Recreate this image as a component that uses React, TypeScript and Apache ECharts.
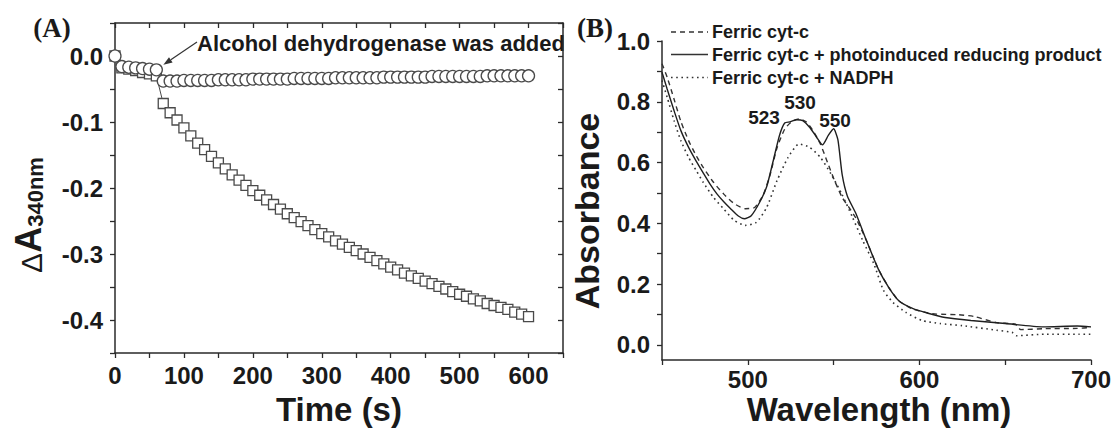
import React, { useEffect, useRef } from "react";
import * as echarts from "echarts";

// ---------- Panel A data ----------
const timeA = [
  0, 10, 20, 30, 40, 50, 60,
  70, 80, 90, 100, 110, 120, 130, 140, 150, 160,
  170, 180, 190, 200, 210, 220, 230, 240, 250, 260,
  270, 280, 290, 300, 310, 320, 330, 340, 350, 360,
  370, 380, 390, 400, 410, 420, 430, 440, 450, 460,
  470, 480, 490, 500, 510, 520, 530, 540, 550, 560,
  570, 580, 590, 600,
];
const circlesA = [
  0, -0.016, -0.017, -0.018, -0.019, -0.02, -0.021,
  -0.038, -0.038, -0.038, -0.037, -0.037, -0.037, -0.037, -0.037, -0.036, -0.036,
  -0.036, -0.036, -0.036, -0.035, -0.035, -0.035, -0.035, -0.035, -0.035, -0.034,
  -0.034, -0.034, -0.034, -0.034, -0.034, -0.033, -0.033, -0.033, -0.033, -0.033,
  -0.033, -0.033, -0.032, -0.032, -0.032, -0.032, -0.032, -0.032, -0.032, -0.031,
  -0.031, -0.031, -0.031, -0.031, -0.031, -0.031, -0.031, -0.03, -0.03, -0.03,
  -0.03, -0.03, -0.03, -0.03,
];
const squaresA = [
  0, -0.018, -0.02, -0.022, -0.025, -0.027, -0.03,
  -0.072, -0.086, -0.097, -0.109, -0.121, -0.132, -0.142, -0.152, -0.162, -0.171,
  -0.18, -0.188, -0.196, -0.204, -0.211, -0.218, -0.225, -0.232, -0.239, -0.245,
  -0.251, -0.257, -0.263, -0.269, -0.274, -0.28, -0.285, -0.29, -0.295, -0.3,
  -0.305, -0.31, -0.315, -0.32, -0.324, -0.329, -0.333, -0.337, -0.341, -0.345,
  -0.349, -0.353, -0.357, -0.361, -0.364, -0.368, -0.371, -0.375, -0.378, -0.381,
  -0.384, -0.388, -0.391, -0.395,
];
const yTicksA = [-0.45, -0.4, -0.35, -0.3, -0.25, -0.2, -0.15, -0.1, -0.05, 0, 0.05];
const yLabelsA = [-0.4, -0.3, -0.2, -0.1, 0];
const xLabelsA = [0, 100, 200, 300, 400, 500, 600];

// ---------- Panel B data ----------
const ferricWl = [
  450, 453, 457, 461, 465.5, 470, 474, 480, 486, 492, 498.5, 504, 509, 513, 517,
  521.5, 525.5, 530, 534, 538, 542.3, 546.4, 550.6, 555, 559, 563, 569, 576, 582,
  588, 596, 605, 610, 623, 632, 645, 656, 659, 672, 692, 700,
];
const ferricAbs = [
  0.925, 0.881, 0.809, 0.735, 0.672, 0.622, 0.584, 0.535, 0.496, 0.465, 0.448, 0.452,
  0.494, 0.56, 0.648, 0.71, 0.734, 0.744, 0.734, 0.705, 0.661, 0.601, 0.54, 0.485,
  0.452, 0.417, 0.345, 0.25, 0.19, 0.145, 0.118, 0.105, 0.101, 0.099, 0.093, 0.073,
  0.068, 0.05, 0.053, 0.054, 0.057,
];
const photoWl = [
  450, 453, 457, 461, 465.5, 470, 474, 478, 482, 486, 490, 494.5, 498, 502, 507, 511,
  515, 518.5, 521.5, 524.5, 528.5, 532, 536, 540, 543.5, 547, 550, 552.5, 555, 558,
  563, 569, 576, 582, 588, 596, 605, 615, 630, 650, 672, 692, 700,
];
const photoAbs = [
  0.897, 0.842, 0.771, 0.705, 0.65, 0.604, 0.566, 0.529, 0.497, 0.471, 0.448, 0.424,
  0.415, 0.425, 0.47, 0.52, 0.61, 0.69, 0.73, 0.734, 0.741, 0.738, 0.716, 0.684,
  0.658, 0.69, 0.711, 0.675, 0.56, 0.49, 0.432, 0.345, 0.25, 0.19, 0.145, 0.12,
  0.104, 0.09, 0.08, 0.07, 0.059, 0.062, 0.059,
];
const nadphWl = [
  450, 453, 457, 461, 465.5, 470, 474, 480, 486, 492, 498.5, 505, 511, 517, 523.5,
  529.8, 536, 542.3, 548.5, 554.8, 561, 567, 573.5, 579, 584.5, 592, 601.5, 612, 625,
  645, 654, 656.5, 673, 693, 700,
];
const nadphAbs = [
  0.87, 0.815, 0.738, 0.672, 0.617, 0.573, 0.535, 0.485, 0.447, 0.41, 0.393, 0.403,
  0.452, 0.54, 0.617, 0.661, 0.65, 0.617, 0.562, 0.496, 0.42, 0.343, 0.266, 0.18,
  0.14, 0.107, 0.08, 0.07, 0.063, 0.048, 0.041, 0.03, 0.035, 0.035, 0.035,
];
const yTicksB = [0, 0.1, 0.2, 0.3, 0.4, 0.5, 0.6, 0.7, 0.8, 0.9, 1.0];
const yLabelsB = [0, 0.2, 0.4, 0.6, 0.8, 1.0];
const xLabelsB = [500, 600, 700];

const seriesNamesB = [
  "Ferric cyt-c",
  "Ferric cyt-c + photoinduced reducing product",
  "Ferric cyt-c + NADPH",
];
const peakLabels = ["523", "530", "550"];

const FONT = "'Liberation Sans', Arial, sans-serif";
const SERIF = "'Liberation Serif', 'Times New Roman', serif";
const INK = "#1a1a1a";
const LINE = "#2a2a2a";

const DASH: number[] = [5, 4];
const DOT: number[] = [1.6, 3.6];

const zip = (xs: number[], ys: number[]) => xs.map((x, i) => [x, ys[i]]);

export default function App() {
  const ref = useRef<HTMLDivElement>(null);

  useEffect(() => {
    if (!ref.current) return;
    const chart = echarts.init(ref.current, undefined, { renderer: "svg" });

    const axisLine = { show: true, onZero: false, lineStyle: { color: LINE, width: 1.5 } };
    const tickStyle = { color: LINE, width: 1.3 };
    const labelStyle = { color: INK, fontSize: 24, fontWeight: "bold" as const, fontFamily: FONT, lineHeight: 24 };

    const option: any = {
      animation: false,
      backgroundColor: "#ffffff",
      grid: [
        { left: 115, top: 23, width: 448, height: 330 },
        { left: 662, top: 41, width: 429, height: 319 },
      ],
      xAxis: [
        {
          type: "value", gridIndex: 0, position: "bottom", min: 0, max: 650, interval: 50,
          axisLine, splitLine: { show: false },
          axisTick: { show: true, inside: false, length: 5, lineStyle: tickStyle },
          axisLabel: {
            ...labelStyle, margin: 10,
            formatter: (v: number) => (xLabelsA.includes(Math.round(v)) ? String(Math.round(v)) : ""),
          },
        },
        {
          type: "value", gridIndex: 0, position: "top", min: 0, max: 650, interval: 50,
          axisLine, splitLine: { show: false },
          axisTick: { show: true, inside: true, length: 5, lineStyle: tickStyle },
          axisLabel: { show: false },
        },
        {
          type: "value", gridIndex: 1, position: "bottom", min: 450, max: 700, interval: 50,
          axisLine, splitLine: { show: false },
          axisTick: { show: true, inside: false, length: 5, lineStyle: tickStyle },
          axisLabel: {
            ...labelStyle, margin: 7,
            formatter: (v: number) => (xLabelsB.includes(Math.round(v)) ? String(Math.round(v)) : ""),
          },
        },
      ],
      yAxis: [
        {
          type: "value", gridIndex: 0, position: "left", min: -0.45, max: 0.05, interval: 0.05,
          axisLine, splitLine: { show: false },
          axisTick: { show: true, inside: false, length: 5, lineStyle: tickStyle, customValues: yTicksA },
          axisLabel: {
            ...labelStyle, margin: 12, customValues: yLabelsA,
            formatter: (v: number) => {
              const r = Math.round(v * 100) / 100;
              return yLabelsA.some((t) => Math.abs(t - r) < 1e-6) ? r.toFixed(1) : "";
            },
          },
        },
        {
          type: "value", gridIndex: 0, position: "right", min: -0.45, max: 0.05, interval: 0.05,
          axisLine, splitLine: { show: false },
          axisTick: { show: true, inside: true, length: 5, lineStyle: tickStyle, customValues: yTicksA },
          axisLabel: { show: false },
        },
        {
          type: "value", gridIndex: 1, position: "left", min: -0.05, max: 1.0,
          axisLine, splitLine: { show: false },
          axisTick: { show: true, inside: false, length: 5, lineStyle: tickStyle, customValues: yTicksB },
          axisLabel: {
            ...labelStyle, margin: 12, customValues: yLabelsB,
            formatter: (v: number) => {
              const r = Math.round(v * 100) / 100;
              return yLabelsB.some((t) => Math.abs(t - r) < 1e-6) ? r.toFixed(1) : "";
            },
          },
        },
      ],
      series: [
        {
          type: "line", name: "squares", xAxisIndex: 0, yAxisIndex: 0, z: 2,
          data: zip(timeA, squaresA),
          symbol: "rect", symbolSize: 10,
          itemStyle: { color: "#ffffff", borderColor: "#4a4a4a", borderWidth: 1.3 },
          lineStyle: { color: "#4a4a4a", width: 1 },
        },
        {
          type: "line", name: "circles", xAxisIndex: 0, yAxisIndex: 0, z: 3,
          data: zip(timeA, circlesA),
          symbol: "circle", symbolSize: 12,
          itemStyle: { color: "#ffffff", borderColor: "#4a4a4a", borderWidth: 1.3 },
          lineStyle: { color: "#4a4a4a", width: 1 },
        },
        {
          type: "line", name: seriesNamesB[0], xAxisIndex: 2, yAxisIndex: 2,
          data: zip(ferricWl, ferricAbs), symbol: "none", smooth: 0.2,
          itemStyle: { color: LINE },
          lineStyle: { color: "#333", width: 1.4, type: DASH },
        },
        {
          type: "line", name: seriesNamesB[1], xAxisIndex: 2, yAxisIndex: 2,
          data: zip(photoWl, photoAbs), symbol: "none", smooth: 0.2,
          itemStyle: { color: LINE },
          lineStyle: { color: "#1f1f1f", width: 1.4, type: "solid" },
        },
        {
          type: "line", name: seriesNamesB[2], xAxisIndex: 2, yAxisIndex: 2,
          data: zip(nadphWl, nadphAbs), symbol: "none", smooth: 0.2,
          itemStyle: { color: LINE },
          lineStyle: { color: "#333", width: 1.6, type: DOT },
        },
      ],
    };
    chart.setOption(option);

    // annotation arrow derived from the data point it points to
    const target = chart.convertToPixel({ xAxisIndex: 0, yAxisIndex: 0 }, [timeA[6], circlesA[6]]) as number[];
    const tip = [target[0] + 7, target[1] - 5];
    const start = [197, 42];
    const dx = tip[0] - start[0];
    const dy = tip[1] - start[1];
    const len = Math.hypot(dx, dy);
    const ux = dx / len, uy = dy / len;
    const back = [tip[0] - ux * 9, tip[1] - uy * 9];
    const head = [
      tip,
      [back[0] - uy * 3.2, back[1] + ux * 3.2],
      [back[0] + uy * 3.2, back[1] - ux * 3.2],
    ];

    const bold = (size: number) => ({ fontSize: size, fontWeight: "bold", fontFamily: FONT, fill: INK });

    // legend for panel B (line samples + names)
    const legendRows = [32, 54.5, 77.5];
    const legendStyles = [
      { lineDash: DASH, lineWidth: 1.4 },
      { lineDash: null as any, lineWidth: 1.4 },
      { lineDash: DOT, lineWidth: 1.6 },
    ];
    const legendEls: any[] = [];
    seriesNamesB.forEach((name, i) => {
      legendEls.push({
        type: "line",
        shape: { x1: 671, y1: legendRows[i], x2: 708, y2: legendRows[i] },
        style: { stroke: "#333", lineWidth: legendStyles[i].lineWidth, lineDash: legendStyles[i].lineDash },
      });
      legendEls.push({
        type: "text", x: 712, y: legendRows[i],
        style: { text: name, ...bold(18), align: "left", verticalAlign: "middle" },
      });
    });

    chart.setOption({
      graphic: [
        { type: "text", x: 52, y: 28, style: { text: "(A)", fontSize: 27, fontWeight: "bold", fontFamily: SERIF, fill: INK, align: "center", verticalAlign: "middle" } },
        { type: "text", x: 595, y: 28, style: { text: "(B)", fontSize: 27, fontWeight: "bold", fontFamily: SERIF, fill: INK, align: "center", verticalAlign: "middle" } },
        { type: "text", x: 339, y: 409, style: { text: "Time (s)", ...bold(33), align: "center", verticalAlign: "middle", lineHeight: 33 } },
        { type: "text", x: 879, y: 409, style: { text: "Wavelength (nm)", ...bold(33), align: "center", verticalAlign: "middle", lineHeight: 33 } },
        { type: "text", x: 587, y: 211, rotation: Math.PI / 2, style: { text: "Absorbance", ...bold(34), align: "center", verticalAlign: "middle" } },
        {
          type: "text", x: 26, y: 215, rotation: Math.PI / 2,
          style: {
            text: "{d|Δ}{a|A}{s|340nm}",
            align: "center", verticalAlign: "middle", fill: INK,
            rich: {
              d: { fontSize: 30, fontWeight: "normal", fontFamily: FONT, fill: INK, lineHeight: 40, verticalAlign: "bottom" },
              a: { fontSize: 36, fontWeight: "bold", fontFamily: FONT, fill: INK, lineHeight: 40, verticalAlign: "bottom" },
              s: { fontSize: 22, fontWeight: "bold", fontFamily: FONT, fill: INK, lineHeight: 14, verticalAlign: "bottom" },
            },
          },
        },
        { type: "text", x: 197, y: 43, style: { text: "Alcohol dehydrogenase was added", ...bold(22), align: "left", verticalAlign: "middle" } },
        { type: "line", shape: { x1: start[0], y1: start[1], x2: back[0], y2: back[1] }, style: { stroke: "#333", lineWidth: 1.2 } },
        { type: "polygon", shape: { points: head }, style: { fill: "#333" } },
        { type: "text", x: 764, y: 117, style: { text: peakLabels[0], ...bold(19), align: "center", verticalAlign: "middle" } },
        { type: "text", x: 800, y: 102, style: { text: peakLabels[1], ...bold(19), align: "center", verticalAlign: "middle" } },
        { type: "text", x: 835, y: 120, style: { text: peakLabels[2], ...bold(19), align: "center", verticalAlign: "middle" } },
        ...legendEls,
      ],
    });

    return () => chart.dispose();
  }, []);

  return (
    <div
      ref={ref}
      style={{ position: "absolute", left: 0, top: 0, width: 1115, height: 428, background: "#fff" }}
    />
  );
}
